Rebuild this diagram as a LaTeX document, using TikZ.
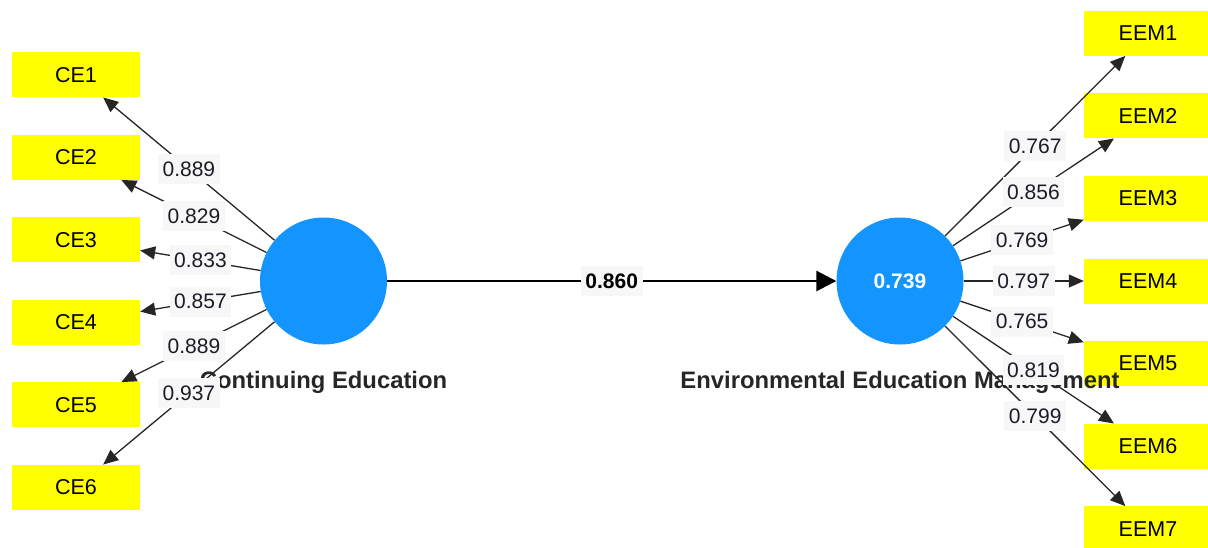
\documentclass[tikz,border=0pt]{standalone}
\usepackage{fontspec}
\setmainfont{Liberation Sans}
\usetikzlibrary{arrows.meta}
\definecolor{indyellow}{RGB}{255,255,0}
\definecolor{lvblue}{RGB}{20,148,255}
\definecolor{labelbg}{RGB}{247,247,247}
\definecolor{inktext}{RGB}{28,28,40}
\begin{document}
\begin{tikzpicture}[x=1pt,y=-1pt,
  every node/.style={font=\fontsize{21pt}{25pt}\selectfont},
  indicator/.style={fill=indyellow, minimum width=128pt, minimum height=45pt, inner sep=0pt, text=black,
    font=\fontsize{21.5pt}{25pt}\selectfont},
  latent/.style={circle, fill=lvblue, minimum size=127pt, inner sep=0pt, text=white,
    font=\bfseries\fontsize{21pt}{25pt}\selectfont},
  lvname/.style={anchor=base, text=black!85, font=\bfseries\fontsize{23.8pt}{28pt}\selectfont},
  loading/.style={draw=black!85, line width=1.3pt, -{Triangle[length=15pt,width=13pt]}},
  structpath/.style={draw=black, line width=2.8pt, -{Triangle[length=20pt,width=20pt]}},
  coef/.style={fill=labelbg, text=inktext, inner xsep=4.5pt, inner ysep=0pt, minimum height=30pt}
]
\useasboundingbox (0,0) rectangle (1208,547);
\clip (0,0) rectangle (1208,547);

% indicator boxes of Continuing Education
\foreach \i in {1,...,6}
  \node[indicator] (ce\i) at (76,{281+(\i-3.5)*82.5}) {CE\i};

% indicator boxes of Environmental Education Management
\foreach \i in {1,...,7}
  \node[indicator] (eem\i) at (1148,{281+(\i-4)*82.6}) {EEM\i};

% latent variables
\node[latent] (ce) at (323.5,281) {};
\node[latent] (eem) at (900,281) {0.739};
\node[lvname] (cename) at (323.5,388) {Continuing Education};
\node[lvname] (eemname) at (900,388) {Environmental Education Management};

% outer loadings
\foreach \i in {1,...,6}
  \draw[loading] (ce) -- (ce\i);
\foreach \i in {1,...,7}
  \draw[loading] (eem) -- (eem\i);

% structural path
\draw[structpath] (ce) -- (eem);

% coefficient labels
\foreach \i/\v in {1/0.889,2/0.829,3/0.833,4/0.857,5/0.889,6/0.937}
  \path (ce) -- (ce\i) node[midway, coef] {\v};
\foreach \i/\v in {1/0.767,2/0.856,3/0.769,4/0.797,5/0.765,6/0.819,7/0.799}
  \path (eem) -- (eem\i) node[midway, coef] {\v};
\path (ce) -- (eem) node[midway, coef, text=black, font=\bfseries\fontsize{21pt}{25pt}\selectfont] {0.860};
\end{tikzpicture}
\end{document}
